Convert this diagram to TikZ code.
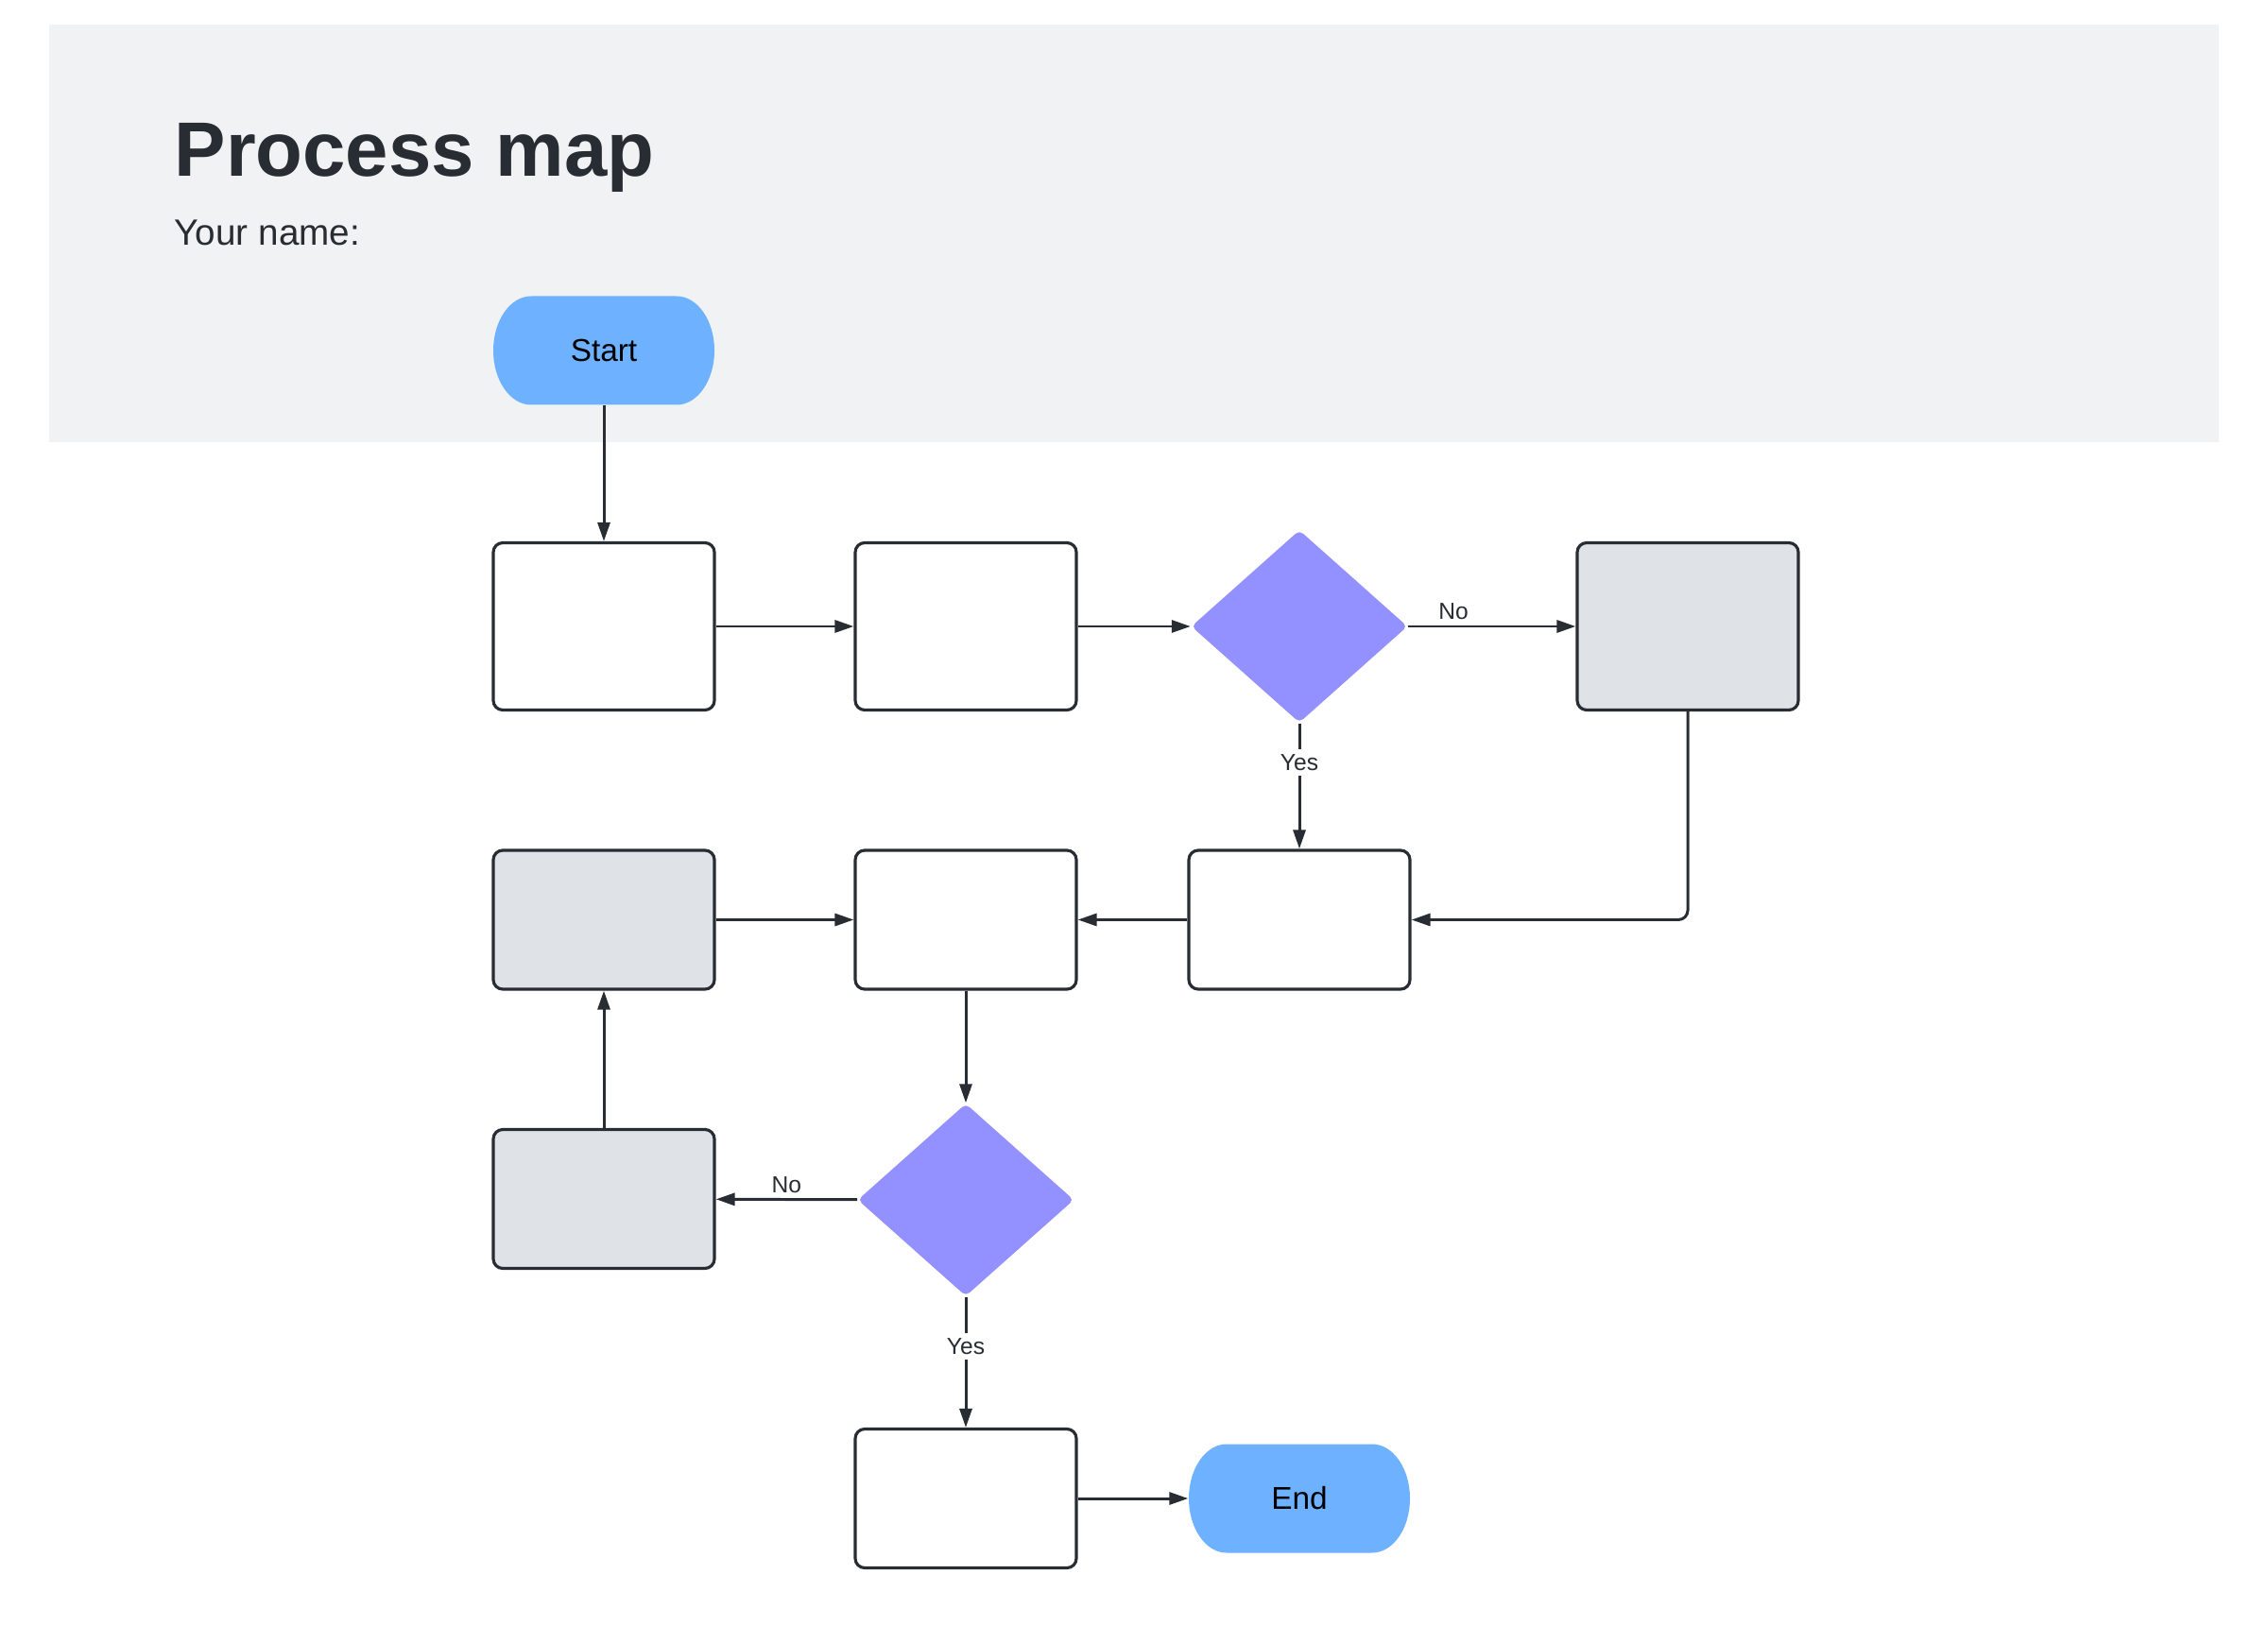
\documentclass[tikz,border=0pt]{standalone}
\usepackage{fontspec}
\setmainfont{Liberation Sans}
\usetikzlibrary{arrows.meta,shapes.geometric}
\definecolor{bandgray}{HTML}{F1F2F4}
\definecolor{termblue}{HTML}{6DB1FF}
\definecolor{decpurple}{HTML}{9391FF}
\definecolor{boxgray}{HTML}{DFE3E8}
\definecolor{ink}{HTML}{282C33}
\begin{document}
\begin{tikzpicture}[line join=round, >={Triangle[length=2mm,width=1.3mm]},
	box/.style={draw=ink, line width=0.9pt, rounded corners=1mm, fill=white, minimum width=2.34cm, minimum height=1.47cm},
	tallbox/.style={box, minimum height=1.77cm},
	shaded/.style={fill=boxgray},
	decision/.style={diamond, fill=decpurple, rounded corners=1.5pt, inner sep=0pt, minimum width=2.29cm, minimum height=2.04cm},
	terminal/.style={rectangle, minimum width=2.34cm, minimum height=1.15cm, font=\fontsize{9.5}{11}\selectfont,
		path picture={\fill[termblue] ([xshift=4mm]path picture bounding box.north west) -- ([xshift=-4mm]path picture bounding box.north east)
			arc[start angle=90, end angle=-90, x radius=4mm, y radius=5.75mm] -- ([xshift=4mm]path picture bounding box.south west)
			arc[start angle=270, end angle=90, x radius=4mm, y radius=5.75mm] -- cycle;}},
	flow/.style={->, draw=ink, line width=0.85pt},
	lab/.style={font=\fontsize{7}{8}\selectfont, text=ink, inner sep=1.5pt}]
	\useasboundingbox (0,0) rectangle (24,-17.39);
	% header band
	\fill[bandgray] (0.52,-0.26) rectangle (23.48,-4.68);
	\node[anchor=base west, inner sep=0, text=ink, font=\fontsize{23.2}{28}\selectfont\bfseries] (title) at (1.84,-1.87) {Process map};
	\node[anchor=base west, inner sep=0, text=ink, font=\fontsize{11}{13}\selectfont] (yourname) at (1.84,-2.60) {Your name:};
	% nodes
	\node[terminal] (start) at (6.39,-3.71) {Start};
	\node[tallbox] (a) at (6.39,-6.63) {};
	\node[tallbox] (b) at (10.22,-6.63) {};
	\node[decision] (q1) at (13.75,-6.63) {};
	\node[tallbox, shaded] (c) at (17.86,-6.63) {};
	\node[box, shaded] (d) at (6.39,-9.735) {};
	\node[box] (e) at (10.22,-9.735) {};
	\node[box] (f) at (13.75,-9.735) {};
	\node[decision] (q2) at (10.22,-12.70) {};
	\node[box, shaded] (g) at (6.39,-12.69) {};
	\node[box] (h) at (10.22,-15.86) {};
	\node[terminal] (finish) at (13.75,-15.86) {End};
	% connectors
	\draw[flow] (start) -- (a);
	\draw[flow] (a) -- (b);
	\draw[flow] (b) -- (q1);
	\draw[flow] (q1) -- node[lab, above, pos=0.27] {No} (c);
	\draw[flow] (q1) -- node[lab, fill=white, pos=0.31] {Yes} (f);
	\draw[flow, rounded corners=1mm] (c) |- (f);
	\draw[flow] (f) -- (e);
	\draw[flow] (d) -- (e);
	\draw[flow] (e) -- (q2);
	\draw[flow] (q2) -- node[lab, above, pos=0.5] {No} (g);
	\draw[flow] (g) -- (d);
	\draw[flow] (q2) -- node[lab, fill=white, pos=0.38] {Yes} (h);
	\draw[flow] (h) -- (finish);
\end{tikzpicture}
\end{document}
